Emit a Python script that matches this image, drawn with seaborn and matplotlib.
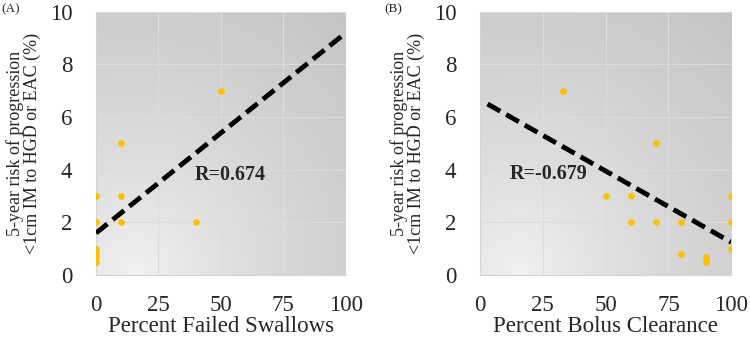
import matplotlib
matplotlib.use("Agg")
import matplotlib.pyplot as plt
import numpy as np
import seaborn as sns

# Panel A: percent failed swallows vs 5-year risk
failed_x = [0, 0, 0, 0, 0, 0, 10, 10, 10, 40, 50]
failed_y = [3, 2, 1, 0.85, 0.7, 0.5, 5, 3, 2, 2, 7]
failed_fit_x = [0, 100]
failed_fit_y = [1.6, 9.2]
failed_r = "R=0.674"

# Panel B: percent bolus clearance vs 5-year risk
bolus_x = [33, 50, 60, 60, 70, 70, 80, 80, 90, 90, 100, 100, 100]
bolus_y = [7, 3, 3, 2, 5, 2, 2, 0.8, 0.7, 0.5, 3, 2, 1]
bolus_fit_x = [3, 100]
bolus_fit_y = [6.5, 1.25]
bolus_r = "R=-0.679"

x_ticks = [0, 25, 50, 75, 100]
y_ticks = [0, 2, 4, 6, 8, 10]
y_label = "5-year risk of progression\n<1cm IM to HGD or EAC (%)"

sns.set_style("white")
plt.rcParams["font.family"] = ["Liberation Serif", "DejaVu Serif"]

fig = plt.figure(figsize=(7.5, 3.47), dpi=100)


def gradient_background(ax):
    # radial grey shading, light at bottom-left, darker towards top-right
    n = 200
    gx, gy = np.meshgrid(np.linspace(0, 1, n), np.linspace(0, 1, n))
    d = np.sqrt((gx - 0.15) ** 2 + gy ** 2)
    t = np.clip(d / 1.4, 0, 1) ** 0.7
    v = (244 - 50 * t) / 255.0
    img = np.dstack([v, v, v])
    ax.imshow(img, extent=(0, 1, 0, 1), transform=ax.transAxes, origin="lower",
              aspect="auto", zorder=0, interpolation="bilinear")


def draw_panel(rect, xs, ys, fx, fy, r_text, r_pos, xlabel, tag, tag_x):
    ax = fig.add_axes(rect)
    gradient_background(ax)
    ax.set_xlim(0, 100)
    ax.set_ylim(0, 10)
    ax.grid(True, color="#dcdcdc", linewidth=0.8, zorder=1)
    ax.set_axisbelow(True)
    sns.lineplot(x=fx, y=fy, ax=ax, color="black", linewidth=3.5,
                 linestyle=(0, (3, 1.4)), zorder=3)
    sns.scatterplot(x=xs, y=ys, ax=ax, color="#FFC000", s=24, linewidth=0, zorder=4)
    ax.text(r_pos[0], r_pos[1], r_text, fontsize=14.5, fontweight="bold",
            va="center", zorder=5)
    ax.set_xticks(x_ticks)
    ax.set_yticks(y_ticks)
    ax.tick_params(labelsize=16.5, length=0)
    ax.tick_params(axis="y", pad=17)
    ax.tick_params(axis="x", pad=14)
    ax.set_xlabel(xlabel, fontsize=16.5, labelpad=0)
    ax.set_ylabel(y_label, fontsize=13, labelpad=6, linespacing=1.0)
    for side in ["top", "right"]:
        ax.spines[side].set_visible(False)
    for side in ["left", "bottom"]:
        ax.spines[side].set_color("#d4d4d4")
    fig.text(tag_x, 0.99, tag, fontsize=9.5, va="top", ha="left")
    return ax


draw_panel([0.128, 0.207, 0.333, 0.759], failed_x, failed_y, failed_fit_x, failed_fit_y,
           failed_r, (39.5, 3.8), "Percent Failed Swallows", "(A)", 0.002)
draw_panel([0.640, 0.207, 0.335, 0.759], bolus_x, bolus_y, bolus_fit_x, bolus_fit_y,
           bolus_r, (12, 3.85), "Percent Bolus Clearance", "(B)", 0.513)

fig.savefig("out.png", dpi=100)
